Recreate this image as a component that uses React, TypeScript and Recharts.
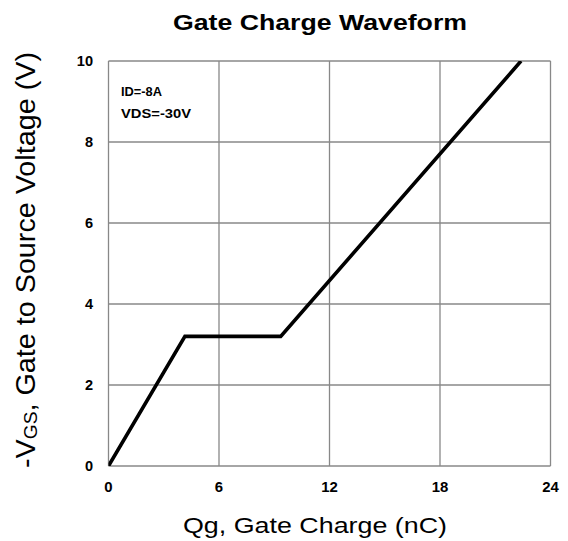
import React from "react";
import {
  LineChart,
  Line,
  XAxis,
  YAxis,
  CartesianGrid,
  Customized,
} from "recharts";

// gate charge curve (nC, V)
const qg = [0, 4.15, 9.35, 22.4];
const vgs = [0, 3.2, 3.2, 10];

const xTicks = [0, 6, 12, 18, 24];
const yTicks = [0, 2, 4, 6, 8, 10];

const data = qg.map((q, i) => ({ q, v: vgs[i] }));

const FONT = "'Liberation Sans', Arial, Helvetica, sans-serif";
const W = 568;
const H = 541;

const XTick = (props: any) => {
  const { x, payload } = props;
  const s = String(payload.value);
  return (
    <text
      x={x}
      y={491.5}
      textAnchor="middle"
      fontFamily={FONT}
      fontWeight="bold"
      fontSize={14}
      fill="#000"
      textLength={s.length * 8.3}
      lengthAdjust="spacingAndGlyphs"
    >
      {s}
    </text>
  );
};

const YTick = (props: any) => {
  const { y, payload } = props;
  const s = String(payload.value);
  return (
    <text
      x={93}
      y={y + 5}
      textAnchor="end"
      fontFamily={FONT}
      fontWeight="bold"
      fontSize={14}
      fill="#000"
      textLength={s.length * 8.1}
      lengthAdjust="spacingAndGlyphs"
    >
      {s}
    </text>
  );
};

const Labels = () => (
  <g fontFamily={FONT} fill="#000">
    <text
      x={320}
      y={29.5}
      textAnchor="middle"
      fontWeight="bold"
      fontSize={22.5}
      textLength={294}
      lengthAdjust="spacingAndGlyphs"
    >
      Gate Charge Waveform
    </text>
    <text
      x={315}
      y={533}
      textAnchor="middle"
      fontSize={22}
      textLength={264}
      lengthAdjust="spacingAndGlyphs"
    >
      Qg, Gate Charge (nC)
    </text>
    <text
      transform="translate(35,260) rotate(-90)"
      x={0}
      y={0}
      textAnchor="middle"
      fontSize={27}
      textLength={416}
      lengthAdjust="spacingAndGlyphs"
    >
      <tspan>-V</tspan>
      <tspan fontSize={18} dy={2}>
        GS
      </tspan>
      <tspan dy={-2}>, Gate to Source Voltage (V)</tspan>
    </text>
    <text
      x={121}
      y={96}
      fontWeight="bold"
      fontSize={13.5}
      textLength={41}
      lengthAdjust="spacingAndGlyphs"
    >
      ID=-8A
    </text>
    <text
      x={121}
      y={117.5}
      fontWeight="bold"
      fontSize={13.5}
      textLength={70}
      lengthAdjust="spacingAndGlyphs"
    >
      VDS=-30V
    </text>
  </g>
);

export default function App() {
  return (
    <div
      style={{
        position: "absolute",
        left: 0,
        top: 0,
        width: W,
        height: H,
        background: "#fff",
      }}
    >
      <LineChart
        width={W}
        height={H}
        data={data}
        margin={{ top: 61, right: 17.5, bottom: 0, left: 0 }}
      >
        <CartesianGrid
          stroke="#888"
          strokeWidth={1.3}
          horizontalValues={yTicks}
          verticalValues={xTicks}
        />
        <XAxis
          dataKey="q"
          type="number"
          domain={[0, 24]}
          ticks={xTicks}
          height={75}
          axisLine={false}
          tickLine={false}
          tick={<XTick />}
          allowDataOverflow
        />
        <YAxis
          type="number"
          domain={[0, 10]}
          ticks={yTicks}
          width={108.5}
          axisLine={false}
          tickLine={false}
          tick={<YTick />}
          allowDataOverflow
        />
        <Line
          type="linear"
          dataKey="v"
          stroke="#000"
          strokeWidth={3.6}
          dot={false}
          activeDot={false}
          isAnimationActive={false}
        />
        <Customized component={Labels} />
      </LineChart>
    </div>
  );
}
